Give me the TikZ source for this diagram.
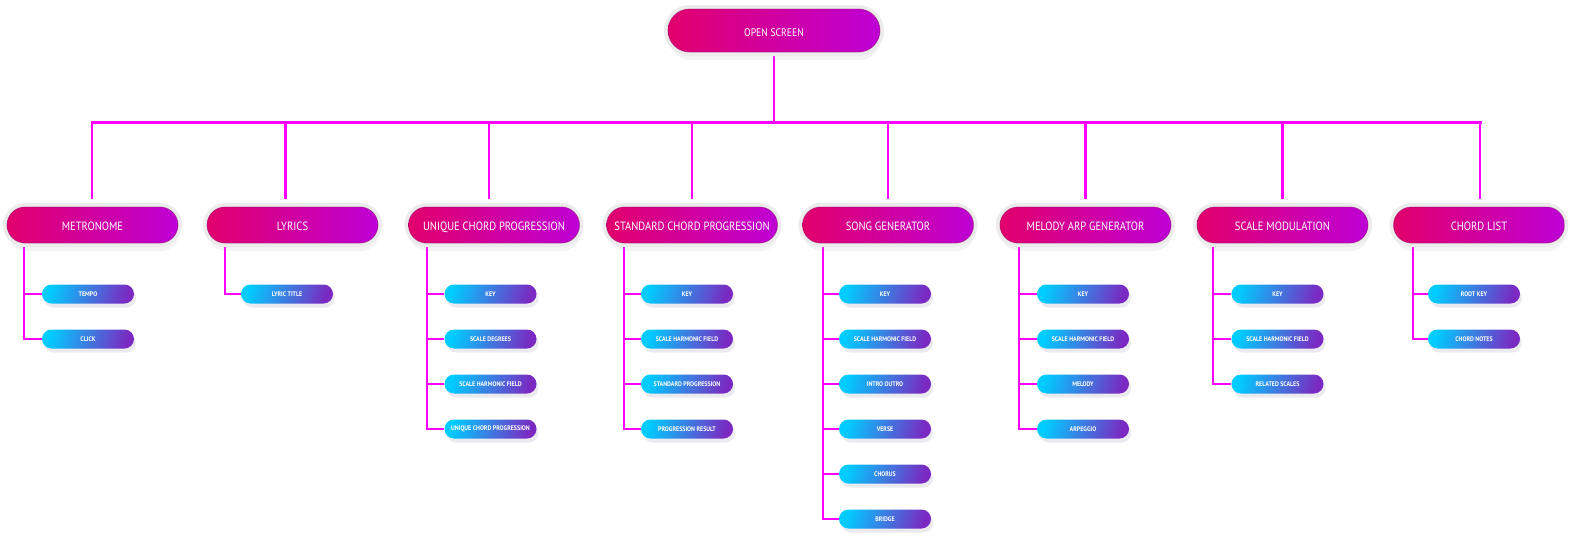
\documentclass[tikz,border=0pt]{standalone}
\usepackage{fontspec}
\setmainfont{PT Sans}
\newfontfamily\catfont[FakeStretch=0.88]{PT Sans}
\newfontfamily\subfont[FakeStretch=0.9]{PT Sans Bold}
\usetikzlibrary{shapes.misc,shadows,backgrounds}
\definecolor{pinkL}{HTML}{E2006C}
\definecolor{pinkM}{HTML}{F600B2}
\definecolor{pinkR}{HTML}{BE00D6}
\definecolor{pinkEdge}{HTML}{8E0060}
\definecolor{ringgray}{HTML}{ECECEC}
\definecolor{subA}{HTML}{00CCFF}
\definecolor{subB}{HTML}{1E50E6}
\definecolor{subC}{HTML}{7A2AC2}
\definecolor{conncol}{HTML}{FF00FF}
\definecolor{shadowcol}{HTML}{9088A8}
\tikzset{
  pillbase/.style={rounded rectangle, inner sep=0pt, text=white, align=center},
  catbox/.style={pillbase, minimum width=171pt, minimum height=36pt,
    font=\catfont\fontsize{12}{14}\selectfont, text height=10pt, text depth=0pt,
    drop shadow={shadow xshift=1pt, shadow yshift=-8pt, opacity=0.10, fill=shadowcol},
    preaction={draw=ringgray, line width=8pt},
    shade, left color=pinkL, middle color=pinkM, right color=pinkR,
    postaction={draw=pinkEdge, draw opacity=0.45, line width=0.9pt}},
  topbox/.style={catbox, minimum width=212pt, minimum height=43pt,
    font=\catfont\fontsize{11}{13}\selectfont, text height=11pt},
  subbox/.style={pillbase, minimum width=92pt, minimum height=19pt,
    font=\subfont\fontsize{6.6}{7.5}\selectfont,
    drop shadow={shadow xshift=2pt, shadow yshift=-4pt, opacity=0.18, fill=shadowcol},
    shade, left color=subA, middle color=subB, right color=subC, shading angle=75},
  conn/.style={draw=conncol, line width=2.6pt}
}
\newcommand\branchtree[4]{%
  \coordinate (#1s) at (#2,247);
  \foreach \lbl [count=\i] in {#4} {
    \node[subbox] (#1\i) at (#3,{249+45*\i}) {\lbl};
    \begin{scope}[on background layer]
      \draw[conn] (#1s) |- (#1\i.west);
    \end{scope}
  }
}
\begin{document}
\begin{tikzpicture}[x=1pt,y=-1pt]
\useasboundingbox (0,0) rectangle (1570,542);
\node[topbox] (os) at (774,30.5) {OPEN SCREEN};
\node[catbox] (met) at (92.5,225) {METRONOME};
\node[catbox] (lyr) at (292.5,225) {LYRICS};
\node[catbox] (ucp) at (494,225) {UNIQUE CHORD PROGRESSION};
\node[catbox] (scp) at (692,225) {STANDARD CHORD PROGRESSION};
\node[catbox] (sg) at (888,225) {SONG GENERATOR};
\node[catbox] (mag) at (1085.5,225) {MELODY ARP GENERATOR};
\node[catbox] (sm) at (1282.5,225) {SCALE MODULATION};
\node[catbox] (cl) at (1479,225) {CHORD LIST};
\coordinate (busL) at (91,122.5);
\coordinate (busR) at (1481.5,122.5);
\begin{scope}[on background layer]
  \draw[conn] (os.south) -- (os.south |- busL);
  \draw[conn] (busL) -- (busR);
  \draw[conn] ([xshift=-0.5pt]met.north |- busL) -- ([xshift=-0.5pt,yshift=8pt]met.north);
  \draw[conn] ([xshift=-7pt]lyr.north |- busL) -- ([xshift=-7pt,yshift=8pt]lyr.north);
  \draw[conn] ([xshift=-5pt]ucp.north |- busL) -- ([xshift=-5pt,yshift=8pt]ucp.north);
  \draw[conn] (scp.north |- busL) -- ([yshift=8pt]scp.north);
  \draw[conn] (sg.north |- busL) -- ([yshift=8pt]sg.north);
  \draw[conn] (mag.north |- busL) -- ([yshift=8pt]mag.north);
  \draw[conn] (sm.north |- busL) -- ([yshift=8pt]sm.north);
  \draw[conn] ([xshift=1pt]cl.north |- busL) -- ([xshift=1pt,yshift=8pt]cl.north);
\end{scope}
\branchtree{a}{24}{88}{TEMPO,CLICK}
\branchtree{b}{225}{287}{LYRIC TITLE}
\branchtree{c}{427}{490.5}{KEY,SCALE DEGREES,SCALE HARMONIC FIELD,UNIQUE CHORD PROGRESSION}
\branchtree{d}{624}{687}{KEY,SCALE HARMONIC FIELD,STANDARD PROGRESSION,PROGRESSION RESULT}
\branchtree{e}{823}{885}{KEY,SCALE HARMONIC FIELD,INTRO OUTRO,VERSE,CHORUS,BRIDGE}
\branchtree{f}{1019}{1083}{KEY,SCALE HARMONIC FIELD,MELODY,ARPEGGIO}
\branchtree{g}{1213}{1277.5}{KEY,SCALE HARMONIC FIELD,RELATED SCALES}
\branchtree{h}{1413}{1474}{ROOT KEY,CHORD NOTES}
\end{tikzpicture}
\end{document}
